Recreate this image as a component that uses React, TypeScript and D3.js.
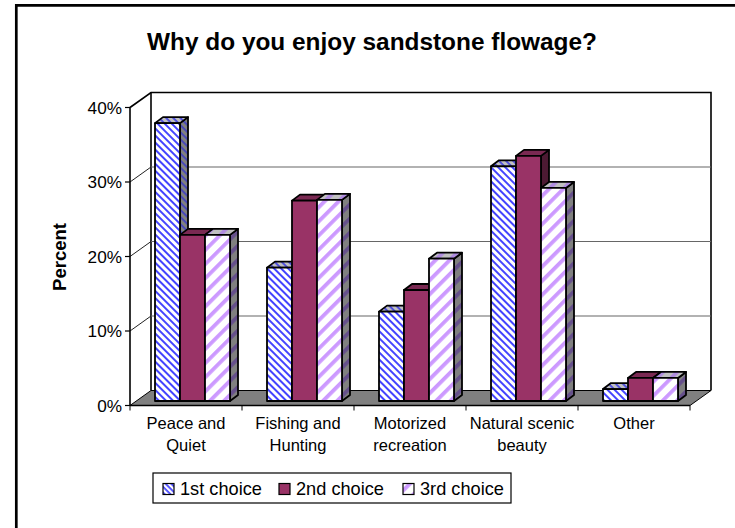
import React from "react";
import * as d3 from "d3";

const categories = ["Peace and|Quiet", "Fishing and|Hunting", "Motorized|recreation", "Natural scenic|beauty", "Other"];
const seriesNames = ["1st choice", "2nd choice", "3rd choice"];
const first = [37.3, 17.9, 12, 31.5, 1.6];
const second = [22.3, 26.9, 14.9, 32.9, 3.1];
const third = [22.3, 27, 19.1, 28.6, 3.1];
const series = [first, second, third];
const yTicks = [0, 10, 20, 30, 40];

const FONT = "Liberation Sans, Arial, sans-serif";

export default function App() {
  const x0 = d3.scaleBand<number>().domain(d3.range(categories.length)).range([130, 690]);
  const y = d3.scaleLinear().domain([0, 40]).range([405.5, 107.5]);
  const wallDx = 21, wallDy = 15;
  const barDx = 6.5, barDy = 4.5, depthDx = 8, depthDy = 6;
  const barW = 25;
  const front = ["url(#p1)", "#993366", "url(#p3)"];
  const side = ["url(#p1s)", "#4d1a33", "url(#p3s)"];
  const top = ["url(#p1t)", "#7a2952", "url(#p3t)"];
  const wallTop = y(40) - wallDy;
  const floorBack = y(0) - wallDy;
  return (
    <svg width={735} height={528} style={{ position: "absolute", left: 0, top: 0, display: "block", background: "#fff" }} fontFamily={FONT}>
      <defs>
        <pattern id="p1" width="5" height="5" patternUnits="userSpaceOnUse" patternTransform="rotate(45)">
          <rect width="5" height="5" fill="#fff" />
          <rect width="5" height="2" fill="#4444ff" />
        </pattern>
        <pattern id="p1s" width="5" height="5" patternUnits="userSpaceOnUse" patternTransform="rotate(45)">
          <rect width="5" height="5" fill="#808080" />
          <rect width="5" height="1.8" fill="#4444c0" />
        </pattern>
        <pattern id="p1t" width="5" height="5" patternUnits="userSpaceOnUse" patternTransform="rotate(45)">
          <rect width="5" height="5" fill="#c0c0c0" />
          <rect width="5" height="1.8" fill="#4646e0" />
        </pattern>
        <pattern id="p3" width="10" height="10" patternUnits="userSpaceOnUse" patternTransform="rotate(-45)">
          <rect width="10" height="10" fill="#fff" />
          <rect width="10" height="3.8" fill="#cc99ff" />
        </pattern>
        <pattern id="p3s" width="10" height="10" patternUnits="userSpaceOnUse" patternTransform="rotate(-45)">
          <rect width="10" height="10" fill="#808080" />
          <rect width="10" height="3.8" fill="#66508c" />
        </pattern>
        <pattern id="p3t" width="10" height="10" patternUnits="userSpaceOnUse" patternTransform="rotate(-45)">
          <rect width="10" height="10" fill="#c0c0c0" />
          <rect width="10" height="3.8" fill="#b08ce0" />
        </pattern>
        <pattern id="l1" width="4" height="4" patternUnits="userSpaceOnUse" patternTransform="rotate(45)">
          <rect width="4" height="4" fill="#fff" />
          <rect width="4" height="1.8" fill="#4444ff" />
        </pattern>
      </defs>

      {/* frame: top and left edges only */}
      <path d="M16.3 528V5.3H735" fill="none" stroke="#000" strokeWidth={2.7} />

      <text x={372} y={49.5} textAnchor="middle" fontSize={24.4} fontWeight="bold">Why do you enjoy sandstone flowage?</text>
      <text transform={`translate(66,257) rotate(-90)`} textAnchor="middle" fontSize={18.5} fontWeight="bold">Percent</text>

      {/* walls */}
      <path d={`M${x0.range()[0]} ${y(40)}L${x0.range()[0] + wallDx} ${wallTop}H${x0.range()[1] + wallDx}V${floorBack}`} fill="none" stroke="#000" strokeWidth={1.6} />
      <path d={`M${x0.range()[0] + wallDx} ${wallTop}V${floorBack}`} fill="none" stroke="#000" strokeWidth={1.6} />
      {/* floor */}
      <path d={`M${x0.range()[0]} ${y(0)}L${x0.range()[0] + wallDx} ${floorBack}H${x0.range()[1] + wallDx}L${x0.range()[1]} ${y(0)}Z`} fill="#808080" stroke="#000" strokeWidth={1} />
      {/* gridlines */}
      {yTicks.slice(1, -1).map(t => (
        <g key={t}>
          <line x1={x0.range()[0]} y1={y(t)} x2={x0.range()[0] + wallDx} y2={y(t) - wallDy} stroke="#222" strokeWidth={1} />
          <line x1={x0.range()[0] + wallDx} y1={y(t) - wallDy} x2={x0.range()[1] + wallDx} y2={y(t) - wallDy} stroke="#666" strokeWidth={1.2} />
        </g>
      ))}
      {/* axes */}
      <line x1={130} y1={y(40)} x2={130} y2={y(0)} stroke="#000" strokeWidth={1.6} />
      <line x1={x0.range()[0]} y1={y(0)} x2={x0.range()[1]} y2={y(0)} stroke="#000" strokeWidth={1.5} />
      {yTicks.map(t => (
        <g key={t}>
          <line x1={125} y1={y(t)} x2={130} y2={y(t)} stroke="#000" strokeWidth={1.2} />
          <text x={122} y={y(t) + 6} textAnchor="end" fontSize={17.2}>{t}%</text>
        </g>
      ))}
      {d3.range(categories.length + 1).map(i => {
        const xx = 130 + i * x0.bandwidth();
        return <line key={i} x1={xx} y1={y(0)} x2={xx} y2={y(0) + 5} stroke="#000" strokeWidth={1} />;
      })}
      {categories.map((c, i) => (
        <text key={c} textAnchor="middle" fontSize={16.5}>
          {c.split("|").map((line, k) => (
            <tspan key={k} x={(x0(i) as number) + x0.bandwidth() / 2} y={429 + k * 21.5}>{line}</tspan>
          ))}
        </text>
      ))}

      {/* bars */}
      {categories.map((_, i) =>
        [0, 1, 2].map(s => {
          const v = series[s][i];
          const left = (x0(i) as number) + x0.bandwidth() / 2 - (barW * 3) / 2 + barDx + s * barW;
          const right = left + barW;
          const base = y(0) - barDy;
          const t = base - (y(0) - y(v));
          return (
            <g key={`${i}-${s}`} stroke="#000" strokeWidth={1.8} strokeLinejoin="round">
              <path d={`M${right} ${t}L${right + depthDx} ${t - depthDy}V${base - depthDy}L${right} ${base}Z`} fill={side[s]} />
              <path d={`M${left} ${t}L${left + depthDx} ${t - depthDy}H${right + depthDx}L${right} ${t}Z`} fill={top[s]} />
              <rect x={left} y={t} width={barW} height={base - t} fill={front[s]} />
            </g>
          );
        })
      )}

      {/* legend */}
      <rect x={153} y={473} width={358} height={30} fill="#fff" stroke="#000" strokeWidth={1.2} />
      {seriesNames.map((n, s) => {
        const xs = [163, 279, 403];
        return (
          <g key={n}>
            <rect x={xs[s]} y={483.5} width={11} height={11} fill={s === 0 ? "url(#l1)" : s === 1 ? "#993366" : "url(#p3)"} stroke="#000" strokeWidth={1.2} />
            <text x={xs[s] + 17} y={495} fontSize={18.2}>{n}</text>
          </g>
        );
      })}
    </svg>
  );
}
